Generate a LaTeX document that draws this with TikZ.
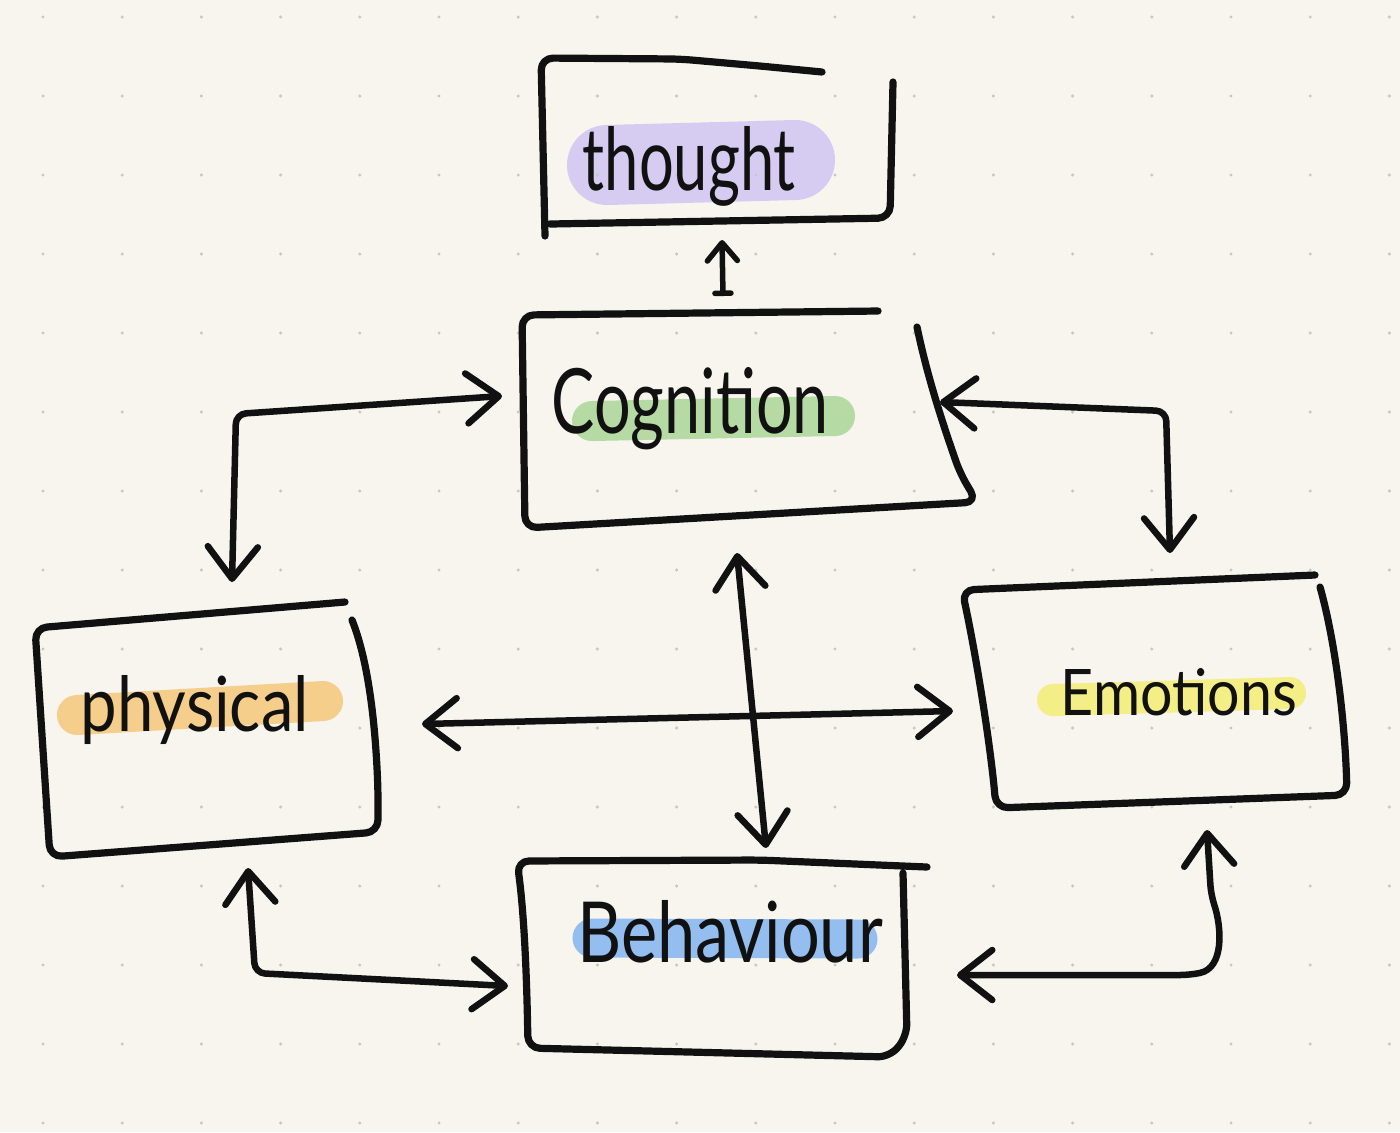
\documentclass[tikz,border=0pt]{standalone}
\usepackage{fontspec}
\usepackage{graphicx}
\setmainfont{Lato}
\usetikzlibrary{arrows.meta}
\definecolor{paper}{HTML}{F7F5EE}
\definecolor{dotc}{HTML}{C9C7C1}
\definecolor{inkc}{HTML}{111111}
\definecolor{hlpurple}{HTML}{D6CCF2}
\definecolor{hlgreen}{HTML}{B6DAA3}
\definecolor{hlorange}{HTML}{F5CE8B}
\definecolor{hlyellow}{HTML}{F3EE86}
\definecolor{hlblue}{HTML}{94BEF0}
\begin{document}
\begin{tikzpicture}[x=0.01cm,y=-0.01cm,
  ink/.style={draw=inkc, line width=0.065cm, line cap=round, line join=round},
  boxline/.style={ink, line width=0.072cm, rounded corners=0.12cm},
  conn/.style={ink, rounded corners=0.1cm,
    arrows={Straight Barb[length=0.32cm,width=0.5cm,round]-Straight Barb[length=0.32cm,width=0.5cm,round]}},
  smallconn/.style={ink, line width=0.055cm,
    arrows={Bar[width=0.16cm,round]-Straight Barb[length=0.18cm,width=0.3cm,round]}},
  hl/.style={line width=#1, line cap=round},
  lbl/.style={inner sep=0pt, anchor=base west, text=inkc}]
% background
\fill[paper] (0,0) rectangle (1400,1132);
\useasboundingbox (0,0) rectangle (1400,1132);

% highlights
\draw[hl=0.8cm, hlpurple] (607,165) -- (795,160);
\draw[hl=0.4cm, hlgreen] (592,421) -- (835,416);
\draw[hl=0.4cm, hlorange] (77,715) -- (323,701);
\draw[hl=0.32cm, hlyellow] (1053,700) -- (1290,693);
\draw[hl=0.39cm, hlblue] (592,938) -- (858,939);

% dot grid
\foreach \i in {0,...,17}{
  \foreach \j in {0,...,14}{
    \fill[dotc] ({43+79.2*\i},{17+79*\j}) circle (1.7);
  }
}

% boxes (hand-drawn outlines)
% thought
\draw[boxline] (822,72) -- (760,66) -- (680,59) -- (541,58) -- (545,236);
\draw[boxline] (550,224) -- (890,218) -- (893,82);
% cognition
\draw[boxline] (878,311) -- (522,315) -- (525,528) -- (977,502)
  -- (960,473) .. controls (945,430) and (928,380) .. (917,327);
% physical
\draw[boxline] (345,602) -- (35,628) -- (50,857) -- (378,832)
  -- (378,790) .. controls (375,720) and (368,660) .. (352,620);
% emotions
\draw[boxline] (1315,575) -- (962,590) .. controls (975,650) and (990,740) .. (996,808)
  -- (1347,795) .. controls (1345,720) and (1335,640) .. (1320,587);
% behaviour
\draw[boxline] (927,867) -- (760,860) -- (517,861) .. controls (525,920) and (527,990) .. (528,1048)
  -- (890,1057) -- (907,1036) -- (903,873);

% labels
\node[lbl] (thoughtlbl) at (582,190) {\resizebox{2.13cm}{0.64cm}{thought}};
\node[lbl] (cognitionlbl) at (551,433) {\resizebox{2.77cm}{0.66cm}{Cognition}};
\node[lbl] (physicallbl) at (80,731) {\resizebox{2.28cm}{0.56cm}{physical}};
\node[lbl] (emotionslbl) at (1060,715) {\resizebox{2.36cm}{0.47cm}{Emotions}};
\node[lbl] (behaviourlbl) at (577,962) {\resizebox{3.05cm}{0.62cm}{Behaviour}};

% connector end points
\coordinate (thA) at (723,296);
\coordinate (thB) at (722,240);
\coordinate (pcA) at (232,582);
\coordinate (pcM) at (236,414);
\coordinate (pcB) at (502,396);
\coordinate (ceA) at (940,402);
\coordinate (ceM) at (1166,411);
\coordinate (ceB) at (1170,553);
\coordinate (cbA) at (737,553);
\coordinate (cbB) at (766,848);
\coordinate (peA) at (422,724);
\coordinate (peB) at (953,711);
\coordinate (pbA) at (248,868);
\coordinate (pbM) at (255,973);
\coordinate (pbB) at (508,986);
\coordinate (ebA) at (957,975);
\coordinate (ebB) at (1207,830);

% connectors
\draw[smallconn] (thA) -- (thB);
\draw[conn] (pcA) -- (pcM) -- (pcB);
\draw[conn] (ceA) -- (ceM) -- (ceB);
\draw[conn] (cbA) -- (cbB);
\draw[conn] (peA) -- (peB);
\draw[conn] (pbA) -- (pbM) -- (pbB);
\draw[conn] (ebA) -- (1190,975) .. controls (1224,968) and (1222,928) .. (1211,895) -- (ebB);
\end{tikzpicture}
\end{document}
